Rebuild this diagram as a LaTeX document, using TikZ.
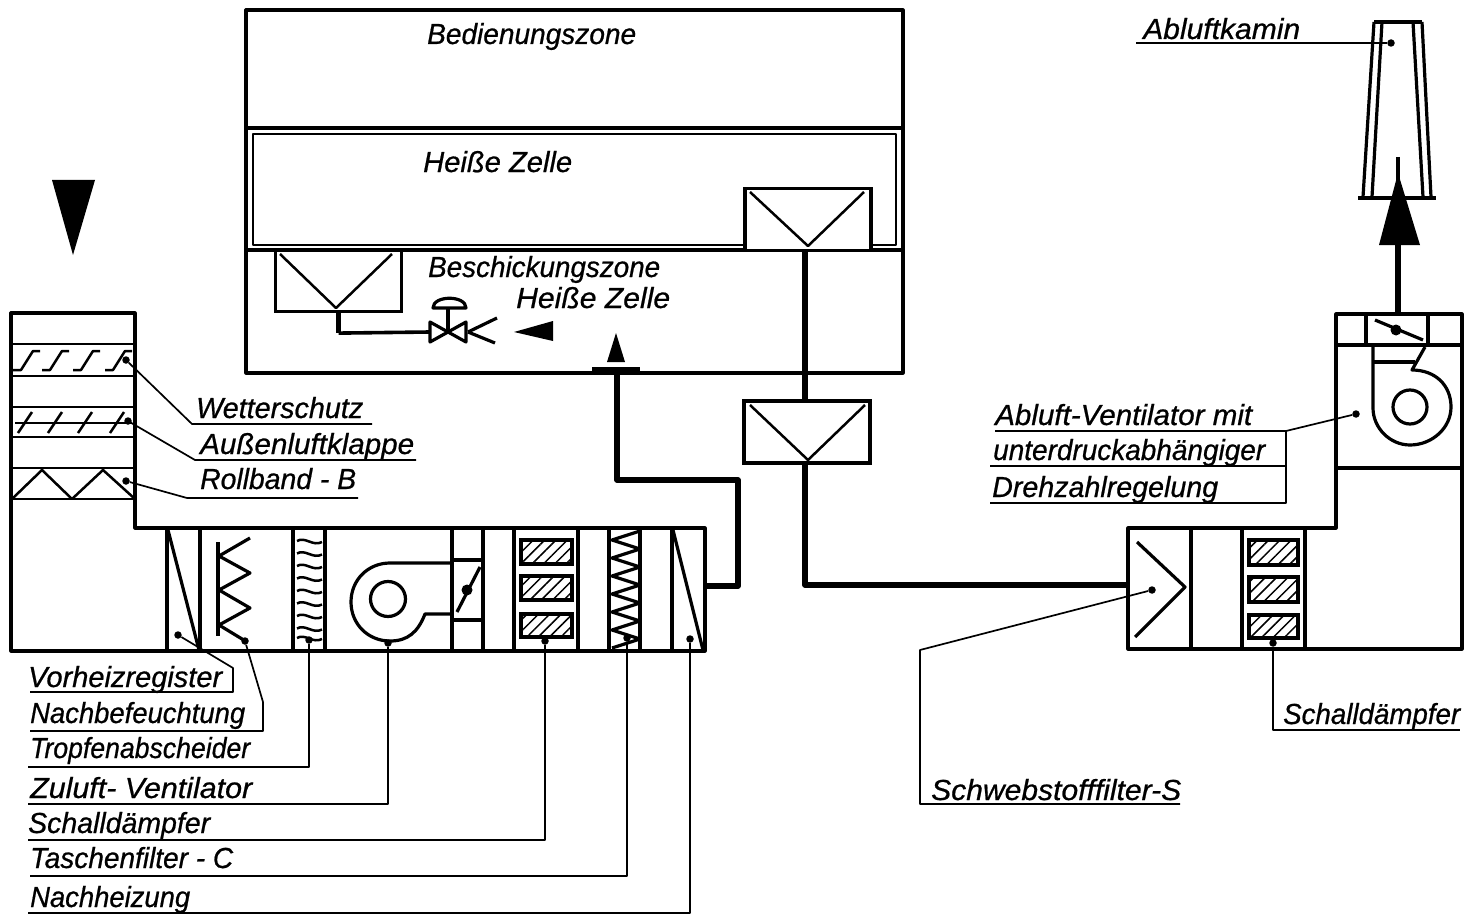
\documentclass[tikz,border=0pt]{standalone}
\usepackage{graphicx}
\usepackage{fontspec}
\setmainfont[ItalicFeatures={FakeBold=0.7}]{Liberation Sans}
\usetikzlibrary{patterns.meta}
\newcommand{\fitlab}[2]{\resizebox{#1pt}{\height}{#2}}
\tikzset{
  wall/.style={line width=3.2pt,line join=round},
  thinwall/.style={line width=2.5pt,line join=round},
  pipe/.style={line width=5.6pt,line join=round},
  leader/.style={line width=1.7pt,line join=round},
  pin/.style={circle,fill=black,inner sep=0pt,minimum size=7.5pt},
  lab/.style={anchor=base west,inner sep=0pt,font=\fontsize{29}{29}\selectfont\itshape},
  filterbox/.style={draw,fill=white,line width=3.2pt,inner sep=0pt,minimum width=126pt,minimum height=62pt},
  hatchbox/.style={draw,line width=3.4pt,pattern={Lines[angle=45,distance=8pt,line width=1.5pt]}},
}
\begin{document}
\begin{tikzpicture}[x=1pt,y=-1pt]
  \useasboundingbox (0,0) rectangle (1465,915);

  \draw[wall] (246,10) rectangle (903,373);
  \draw[wall] (246,128) -- (903,128); \draw[wall] (246,250) -- (903,250);
  \draw[thinwall] (253,134) rectangle (896,245);

  \node[filterbox] (fcell) at (808,219.5) {}; \node[filterbox,minimum height=61pt] (fload) at (338.5,281) {}; \node[filterbox] (fduct) at (807,432) {};
  \draw[thinwall] (750,192) -- (808,246) -- (864,192);
  \draw[thinwall] (280,254) -- (336,308) -- (392,254);
  \draw[thinwall] (750,405) -- (808,460) -- (865,405);

  \coordinate (vin) at (430,332); \coordinate (vtip) at (448,332);
  \draw[pipe] (fload.south) -- ++(0,20) coordinate (pbend); \draw[line width=3.6pt] (pbend) -- (vin);
  \draw[wall] (430,322) -- (430,342) -- (466,322) -- (466,342) -- cycle;
  \draw[wall] (448,332) -- (448,309); \draw[wall,fill=white] (433,308) .. controls (433,295) and (466,295) .. (466,308) -- cycle;
  \draw[wall] (468,332) -- (497,318); \draw[wall] (468,332) -- (495,343);
  \fill (514,332) -- (553,321) -- (553,341) -- cycle;
  \fill (616,333) -- (625,362) -- (607,362) -- cycle;
  \draw[pipe] (592,370) -- (640,370);

  % inlet tower and supply duct
  \fill (52,180) -- (95,180) -- (73,255) -- cycle;
  \draw[wall] (11,313) -- (135,313) -- (135,528) -- (705,528) -- (705,651) -- (11,651) -- cycle;
  \foreach \y in {344,376,407,437,468,499} {\draw[thinwall] (11,\y) -- (135,\y);}
  \foreach \x in {13,42,73,105} {\draw[thinwall] (\x,370) -- (\x+8,370) -- (\x+20,351) -- (\x+27,351);}
  \draw[thinwall] (15,423) -- (132,423);
  \foreach \x in {18,48,78,110} {\draw[thinwall] (\x,433) -- (\x+14,412);}
  \draw[thinwall] (12,499) -- (42,470) -- (72,499) -- (103,470) -- (135,499);

  \foreach \x in {167,200,293,325,452,483,514,578,609,640,672} {\draw[wall] (\x,528) -- (\x,651);}
  \draw[wall] (168,530) -- (199,650); \draw[wall] (673,530) -- (703,650);
  \draw[line width=4.4pt] (218,542) -- (218,636);
  \draw[wall] (250,538) -- (219,556) -- (250,573) -- (219,590) -- (250,608) -- (219,625) -- (247,642);
  \foreach \y in {541,553.5,566,578.5,591,603.5,616,628.5,638} {\draw[thinwall] (297,\y) .. controls (305,\y-5) and (313,\y+6) .. (322,\y+1);}

  \draw[wall] (388,599) circle (17.5);
  \draw[wall] (452,563) -- (390,563) .. controls (368,563) and (351,580) .. (351,602) .. controls (351,624) and (368,641) .. (390,641) .. controls (408,641) and (418,632) .. (425,614) -- (452,614);
  \draw[wall] (452,560) -- (483,560); \draw[wall] (452,620) -- (483,620); \draw[wall] (457,612) -- (480,567);
  \fill (467,590) circle (5.5);

  \foreach \ya/\yb in {540/564,576/600,614/637} {\draw[hatchbox] (521,\ya) rectangle (572,\yb);}
  \draw[wall] (640,531) \foreach \y in {531,549,567,585,603,621} {-- (612,\y+9) -- (640,\y+18)} -- (612,648);

  % return duct and exhaust tower
  \draw[wall] (1128,528) -- (1336,528) -- (1336,314) -- (1462,314) -- (1462,649) -- (1128,649) -- cycle;
  \foreach \x in {1191,1242,1305} {\draw[wall] (\x,528) -- (\x,649);}
  \foreach \ya/\yb in {540/565,577/602,615/638} {\draw[hatchbox] (1249,\ya) rectangle (1298,\yb);}
  \draw[wall] (1137,542) -- (1185,587) -- (1135,637);

  \draw[wall] (1336,345) -- (1462,345); \draw[wall] (1336,468) -- (1462,468);
  \draw[wall] (1366,314) -- (1366,345); \draw[wall] (1428,314) -- (1428,345);
  \draw[wall] (1375,320) -- (1423,340); \fill (1396,330) circle (5.5);
  \draw[wall] (1410,407) circle (17);
  \draw[wall] (1373,347) -- (1373,408) .. controls (1373,428) and (1390,445) .. (1410,445) .. controls (1432,445) and (1451,428) .. (1451,407) .. controls (1451,385) and (1435,370) .. (1412,370) -- (1425,347);
  \draw[wall] (1373,362) -- (1415,362);

  \draw[wall] (1374,22) -- (1422,22);
  \draw[wall] (1374,22) -- (1363,197); \draw[wall] (1382,22) -- (1372,197); \draw[wall] (1422,22) -- (1431,197); \draw[wall] (1413,22) -- (1423,197);
  \draw[wall] (1358,198) -- (1436,198);
  \draw[wall] (1398,157) -- (1398,180);
  \fill (1398,173) -- (1420,245) -- (1379,245) -- cycle;

  \coordinate (jsup) at (705,586); \coordinate (jret) at (1128,585);
  \draw[pipe] (617,372) -- (617,480) -- (738,480) -- (738,586) -- (jsup);
  \draw[pipe] (805,250) -- (805,401); \draw[pipe] (805,463) -- (805,585) -- (jret);
  \draw[pipe] (1398,314) -- (1398,240);

  \node[lab] (tbedien) at (427,44) {\fitlab{209}{Bedienungszone}};
  \node[lab] (tzelle) at (423,172) {\fitlab{149}{Heiße Zelle}};
  \node[lab] (tbesch) at (428,277) {\fitlab{232}{Beschickungszone}};
  \node[lab] (tzelleb) at (516,308) {\fitlab{154}{Heiße Zelle}};

  \node[lab] (twetter) at (196,418) {\fitlab{167}{Wetterschutz}}; \node[pin] (dwetter) at (126,360) {}; \coordinate (kwetter) at (192,424); \coordinate (uwetter) at (372,424);
  \node[lab] (taussen) at (200,454) {\fitlab{214}{Außenluftklappe}}; \node[pin] (daussen) at (128,421) {}; \coordinate (kaussen) at (195,460); \coordinate (uaussen) at (416,460);
  \node[lab] (trollb) at (200,489) {\fitlab{156}{Rollband - B}}; \node[pin] (drollb) at (126,481) {}; \coordinate (krollb) at (187,498); \coordinate (urollb) at (358,498);
  \draw[leader] (dwetter) -- (kwetter) -- (uwetter); \draw[leader] (daussen) -- (kaussen) -- (uaussen); \draw[leader] (drollb) -- (krollb) -- (urollb);

  \node[lab] (tvorh) at (28,687) {\fitlab{194}{Vorheizregister}}; \node[pin] (dvorh) at (178,635) {}; \coordinate (kvorh) at (233,668); \coordinate (cvorh) at (233,692); \coordinate (uvorh) at (30,692);
  \draw[leader] (dvorh) -- (kvorh) -- (cvorh) -- (uvorh);
  \node[lab] (tnachb) at (30,723) {\fitlab{215}{Nachbefeuchtung}}; \node[pin] (dnachb) at (245,641) {}; \coordinate (knachb) at (263,702); \coordinate (cnachb) at (263,731); \coordinate (unachb) at (30,731);
  \draw[leader] (dnachb) -- (knachb) -- (cnachb) -- (unachb);
  \node[lab] (ttropf) at (30,758) {\fitlab{220}{Tropfenabscheider}}; \node[pin] (dtropf) at (309,640) {}; \coordinate (ctropf) at (309,767); \coordinate (utropf) at (28,767);
  \draw[leader] (dtropf) -- (ctropf) -- (utropf);
  \node[lab] (tzuluft) at (30,798) {\fitlab{222}{Zuluft- Ventilator}}; \node[pin] (dzuluft) at (388,643) {}; \coordinate (czuluft) at (388,804); \coordinate (uzuluft) at (28,804);
  \draw[leader] (dzuluft) -- (czuluft) -- (uzuluft);
  \node[lab] (tschall) at (28,833) {\fitlab{182}{Schalldämpfer}}; \node[pin] (dschall) at (545,641) {}; \coordinate (cschall) at (545,840); \coordinate (uschall) at (28,840);
  \draw[leader] (dschall) -- (cschall) -- (uschall);
  \node[lab] (ttasche) at (30,868) {\fitlab{203}{Taschenfilter - C}}; \node[pin] (dtasche) at (627,638) {}; \coordinate (ctasche) at (627,876); \coordinate (utasche) at (30,876);
  \draw[leader] (dtasche) -- (ctasche) -- (utasche);
  \node[lab] (tnachh) at (30,907) {\fitlab{160}{Nachheizung}}; \node[pin] (dnachh) at (690,639) {}; \coordinate (cnachh) at (690,913); \coordinate (unachh) at (28,913);
  \draw[leader] (dnachh) -- (cnachh) -- (unachh);

  \node[lab] (tschweb) at (931,800) {\fitlab{250}{Schwebstofffilter-S}}; \node[pin] (dschweb) at (1152,590) {}; \coordinate (kschweb) at (920,650); \coordinate (cschweb) at (920,804); \coordinate (uschweb) at (1180,804);
  \draw[leader] (dschweb) -- (kschweb) -- (cschweb) -- (uschweb);
  \node[lab] (tschallb) at (1283,724) {\fitlab{177}{Schalldämpfer}}; \node[pin] (dschallb) at (1273,643) {}; \coordinate (cschallb) at (1273,730); \coordinate (uschallb) at (1460,730);
  \draw[leader] (dschallb) -- (cschallb) -- (uschallb);

  \node[lab] (tabl) at (995,425) {\fitlab{257}{Abluft-Ventilator mit}}; \node[lab] (tunter) at (993,460) {\fitlab{272}{unterdruckabhängiger}}; \node[lab] (tdreh) at (992,497) {\fitlab{226}{Drehzahlregelung}};
  \node[pin] (dabl) at (1356,414) {}; \coordinate (kabl) at (1286,431); \coordinate (uabl) at (995,431); \coordinate (kunter) at (1286,466); \coordinate (uunter) at (990,466); \coordinate (kdreh) at (1286,503); \coordinate (udreh) at (990,503);
  \draw[leader] (dabl) -- (kabl) -- (uabl); \draw[leader] (kabl) -- (kdreh) -- (udreh); \draw[leader] (kunter) -- (uunter);

  \node[lab] (tkamin) at (1143,39) {\fitlab{157}{Abluftkamin}}; \node[pin] (dkamin) at (1391,43) {}; \coordinate (ukamin) at (1136,43);
  \draw[leader] (dkamin) -- (ukamin);
\end{tikzpicture}
\end{document}
